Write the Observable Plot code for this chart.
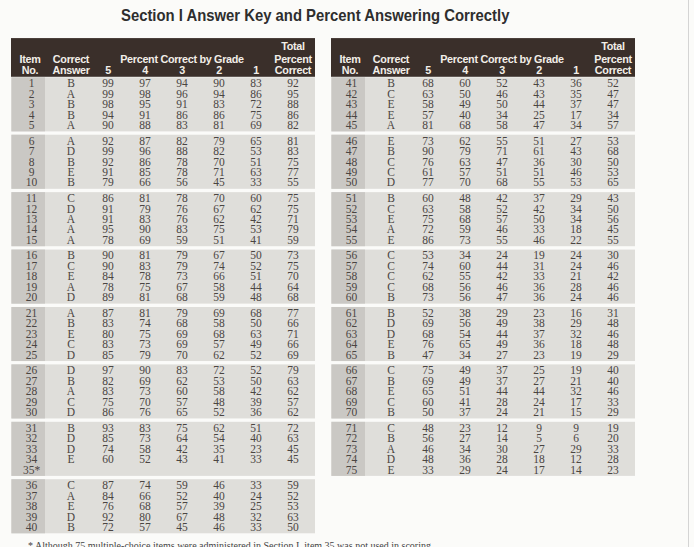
<!DOCTYPE html>
<html><head><meta charset="utf-8">
<script src="https://cdn.jsdelivr.net/npm/d3@7"></script>
<script src="https://cdn.jsdelivr.net/npm/@observablehq/plot@0.6"></script>
<style>
html,body{margin:0;padding:0;background:#fbfbf9;width:694px;height:547px;overflow:hidden;position:relative}
#title{position:absolute;left:121px;top:0;height:30px;line-height:30px;white-space:nowrap;font-family:"Liberation Sans",Arial,sans-serif;font-weight:bold;font-size:16.5px;color:#2e2e2e;transform:scaleX(0.9);transform-origin:0 0}
#chart{position:absolute;left:0;top:36px}
#chart svg g[font-weight="bold"]{letter-spacing:-0.3px}
#note{position:absolute;left:28px;top:539px;font-family:"Liberation Serif",serif;font-size:10px;color:#444;white-space:nowrap;line-height:14px}
#edge{position:absolute;left:688px;top:0;width:1px;height:547px;background:#d4d4d4}
</style></head>
<body>
<div id="title">Section I Answer Key and Percent Answering Correctly</div>
<div id="chart"></div>
<div id="note">* Although 75 multiple-choice items were administered in Section I, item 35 was not used in scoring.</div>
<div id="edge"></div>
<script>
// ---- data ----
const itemLabels = ["1","2","3","4","5","6","7","8","9","10","11","12","13","14","15","16","17","18","19","20",
  "21","22","23","24","25","26","27","28","29","30","31","32","33","34","35*","36","37","38","39","40",
  "41","42","43","44","45","46","47","48","49","50","51","52","53","54","55","56","57","58","59","60",
  "61","62","63","64","65","66","67","68","69","70","71","72","73","74","75"];
const answers = ["B","A","B","B","A","A","D","B","E","B","C","D","A","A","A","B","C","E","A","D",
  "A","B","E","C","D","D","B","A","C","D","B","D","D","E","","C","A","E","D","B",
  "B","C","E","E","A","E","B","C","C","D","B","C","E","A","E","C","C","C","C","B",
  "B","D","D","E","B","C","B","E","C","B","C","B","A","D","E"];
const grade5 = [99,99,98,94,90,92,99,92,91,79,86,91,91,95,78,90,90,84,78,89,
  87,83,80,83,85,97,82,83,75,86,93,85,74,60,null,87,84,76,92,72,
  68,63,58,57,81,73,90,76,61,77,60,63,75,72,86,53,74,62,68,73,
  52,69,68,76,47,75,69,65,60,50,48,56,46,48,33];
const grade4 = [97,98,95,91,88,87,96,86,85,66,81,79,83,90,69,81,83,78,75,81,
  81,74,75,73,79,90,69,73,70,76,83,73,58,52,null,74,66,68,80,57,
  60,50,49,40,68,62,79,63,57,70,48,58,68,59,73,34,60,55,56,56,
  38,56,54,65,34,49,49,51,41,37,23,27,34,36,29];
const grade3 = [94,96,91,86,83,82,88,78,78,56,78,76,76,83,59,79,79,73,67,68,
  79,68,69,69,70,83,62,60,57,65,75,64,42,43,null,59,52,57,67,45,
  52,46,50,34,58,55,71,47,51,68,42,52,57,46,55,24,44,42,46,47,
  29,49,44,49,27,37,37,44,28,24,12,14,30,28,24];
const grade2 = [90,94,83,86,81,79,82,70,71,45,70,67,62,75,51,67,74,66,58,59,
  69,58,68,57,62,72,53,58,48,52,62,54,35,41,null,46,40,39,48,46,
  43,43,44,25,47,51,61,36,51,55,37,42,50,33,46,19,31,33,36,36,
  23,38,37,36,23,25,27,44,24,21,9,5,27,18,17];
const grade1 = [83,86,72,75,69,65,53,51,63,33,60,62,42,53,41,50,52,51,44,48,
  68,50,63,49,52,52,50,42,39,36,51,40,23,33,null,33,24,25,32,33,
  36,35,37,17,34,27,43,30,46,53,29,34,34,18,22,24,24,21,28,24,
  16,29,32,18,19,19,21,32,17,15,9,6,29,12,14];
const totalPct = [92,95,88,86,82,81,83,75,77,55,75,75,71,79,59,73,75,70,64,68,
  77,66,71,66,69,79,63,62,57,62,72,63,45,45,null,59,52,53,63,50,
  52,47,47,34,57,53,68,50,53,65,43,50,56,45,55,30,46,42,46,46,
  31,48,46,48,29,40,40,46,33,29,19,20,33,28,23];

const columnKeys = ["item","ans","g5","g4","g3","g2","g1","total"];
const gradeLabels = ["5","4","3","2","1"];
const headerLines = [
  {col:"total", line:0, text:"Total"},
  {col:"item", line:1, text:"Item"},
  {col:"ans", line:1, text:"Correct"},
  {col:"g3", line:1, text:"Percent Correct by Grade"},
  {col:"total", line:1, text:"Percent"},
  {col:"item", line:2, text:"No."},
  {col:"ans", line:2, text:"Answer"},
  {col:"total", line:2, text:"Correct"},
  ...gradeLabels.map(t => ({col: "g" + t, line: 2, text: t}))
];

// ---- layout helpers (row units) ----
const GAP = 0.49;
const headerRowPos = [-3.54, -2.3, -1.22];
const sides = ["L","R"];
const rows = itemLabels.map((lab, k) => {
  const side = k < 40 ? "L" : "R";
  const i = k < 40 ? k : k - 40;
  const g = Math.floor(i / 5);
  return {side, i, g, pos: i + GAP * g,
    item: lab, ans: answers[k], g5: grade5[k], g4: grade4[k], g3: grade3[k], g2: grade2[k], g1: grade1[k], total: totalPct[k]};
});
const cells = rows.flatMap(r => columnKeys.map(c => ({side: r.side, col: c, pos: r.pos, text: r[c] == null ? "" : String(r[c])})));
const groups = d3.groups(rows, r => r.side + r.g).map(([key, rs]) => ({
  side: rs[0].side,
  y1: rs[0].pos - 0.55,
  y2: rs[rs.length - 1].pos + 0.62
}));
const headerBox = [{y1: -4.3, y2: -0.6}];
const headerTexts = headerLines.map(h => ({...h, pos: headerRowPos[h.line]}));
const isItem = d => d.col === "item";
const notItem = d => d.col !== "item";

const hdrFont = {fill: "#f2eee8", fontFamily: "'Liberation Sans', Arial, sans-serif", fontWeight: "bold", fontSize: 10.8};
const cellFont = {fill: "#4a4542", fontFamily: "'Liberation Serif', serif", fontSize: 11.5};

const chart = Plot.plot({
  width: 694, height: 502,
  marginTop: 0, marginBottom: 0, marginLeft: 10, marginRight: 59,
  fx: {domain: sides, paddingInner: 0.05, paddingOuter: 0, axis: null, label: null},
  x: {type: "band", domain: columnKeys, paddingInner: 0, paddingOuter: 0.09, axis: null},
  y: {domain: [-4.5, 43.5], range: [0, 502], axis: null},
  style: {background: "transparent", overflow: "visible"},
  marks: [
    Plot.barY(headerBox, {y1: "y1", y2: "y2", fill: "#3a2f2a"}),
    Plot.barY(groups, {fx: "side", y1: "y1", y2: "y2", fill: "#dfdeda"}),
    Plot.barY(groups, {fx: "side", x: () => "item", y1: "y1", y2: "y2", fill: "#cac8c4", insetLeft: -3.4, insetRight: 7}),
    Plot.text(headerTexts.filter(notItem), {x: "col", y: "pos", text: "text", ...hdrFont}),
    Plot.text(headerTexts.filter(isItem), {x: "col", y: "pos", text: "text", dx: -4, ...hdrFont}),
    Plot.text(cells.filter(notItem), {fx: "side", x: "col", y: "pos", text: "text", ...cellFont}),
    Plot.text(cells.filter(isItem), {fx: "side", x: "col", y: "pos", text: "text", dx: -2.5, ...cellFont})
  ]
});
document.getElementById("chart").appendChild(chart);
</script>
</body></html>
